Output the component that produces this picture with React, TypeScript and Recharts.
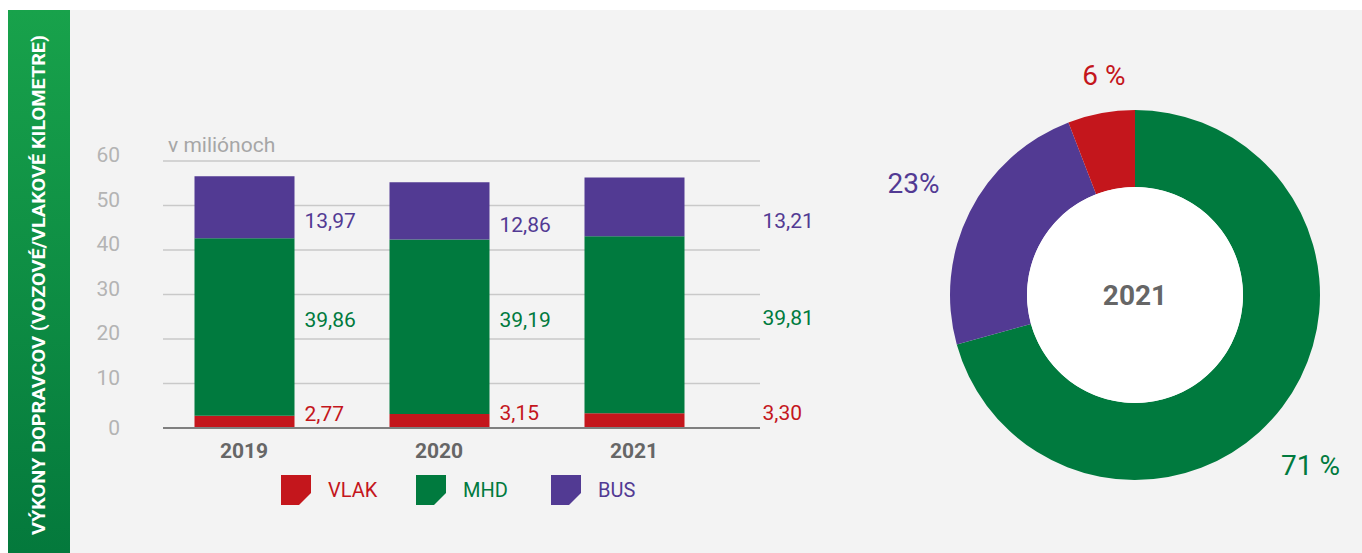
import React from 'react'
import {
  BarChart,
  Bar,
  XAxis,
  YAxis,
  CartesianGrid,
  LabelList,
  PieChart,
  Pie,
  Cell,
  Label
} from 'recharts'

// data
const years = ['2019', '2020', '2021']
const vlak = [2.77, 3.15, 3.3]
const mhd = [39.86, 39.19, 39.81]
const bus = [13.97, 12.86, 13.21]
const yTicks = [0, 10, 20, 30, 40, 50, 60]
const legendNames = ['VLAK', 'MHD', 'BUS']

const pieNames = ['MHD', 'BUS', 'VLAK']
const pieValues = [39.81, 13.21, 3.3]
const pieLabels = ['71 %', '23%', '6 %']
const pieYear = '2021'

const sideTitle = 'VÝKONY DOPRAVCOV (VOZOVÉ/VLAKOVÉ KILOMETRE)'
const unitText = 'v miliónoch'

const colors: Record<string, string> = {
  VLAK: '#c4161c',
  MHD: '#007a3e',
  BUS: '#523a93'
}

const FONT = 'Roboto, "Noto Sans", sans-serif'

// label layout tweaks (not data)
const labelDx = [10, 10, 78]
const pieLabelRadius = [60, 63, 37]
const pieLabelAngleShift = [-7, 0, -2.5]

const fmt = (v: number) => v.toFixed(2).replace('.', ',')

const barData = years.map((year, i) => ({
  year,
  VLAK: vlak[i],
  MHD: mhd[i],
  BUS: bus[i]
}))

const pieData = pieNames.map((name, i) => ({ name, value: pieValues[i] }))
const holeData = [{ name: 'hole', value: 1 }]

const makeBarLabel = (color: string, dy: number) => (props: any) => {
  const vb = props.viewBox || {}
  const x = props.x ?? vb.x
  const y = props.y ?? vb.y
  const width = props.width ?? vb.width
  const height = props.height ?? vb.height
  const index = props.index ?? 0
  return (
    <text
      x={x + width + labelDx[index]}
      y={y + height / 2 + dy}
      fill={color}
      fontSize={21}
      fontFamily={FONT}
      dominantBaseline="central"
    >
      {fmt(Number(props.value))}
    </text>
  )
}

const YTick = (props: any) => {
  const { y, payload } = props
  return (
    <text
      x={120}
      y={y + (payload.value === 0 ? 0 : -6)}
      textAnchor="end"
      dominantBaseline="central"
      fill="#b4b4b4"
      fontSize={21}
      fontFamily={FONT}
    >
      {payload.value}
    </text>
  )
}

const XTick = (props: any) => {
  const { x, payload } = props
  return (
    <text
      x={x}
      y={451}
      textAnchor="middle"
      dominantBaseline="central"
      fill="#666"
      fontSize={21}
      fontWeight={700}
      fontFamily={FONT}
    >
      {payload.value}
    </text>
  )
}

const RADIAN = Math.PI / 180

const renderPieLabel = (props: any) => {
  const { cx, cy, midAngle, outerRadius, index } = props
  const a = (midAngle + pieLabelAngleShift[index]) * RADIAN
  const r = outerRadius + pieLabelRadius[index]
  const x = cx + r * Math.cos(a)
  const y = cy - r * Math.sin(a)
  return (
    <text
      x={x}
      y={y}
      textAnchor="middle"
      dominantBaseline="central"
      fill={colors[pieNames[index]]}
      fontSize={28}
      fontFamily={FONT}
    >
      {pieLabels[index]}
    </text>
  )
}

function LegendIcon({ color }: { color: string }) {
  return (
    <svg width={30} height={30} style={{ display: 'block' }}>
      <polygon points="0,0 30,0 30,18 18,30 0,30" fill={color} />
    </svg>
  )
}

export default function App() {
  return (
    <div
      style={{
        position: 'fixed',
        left: 0,
        top: 0,
        width: 1362,
        height: 553,
        background: '#fff',
        fontFamily: FONT,
        overflow: 'hidden'
      }}
    >
      {/* green side band */}
      <div
        style={{
          position: 'absolute',
          left: 8,
          top: 10,
          width: 62,
          height: 543,
          background: 'linear-gradient(#18a24b, #04793c)'
        }}
      >
        <svg width={62} height={543}>
          <text
            transform="translate(37,275) rotate(-90)"
            textAnchor="middle"
            fill="#fff"
            fontSize={18}
            fontWeight={700}
            fontFamily={FONT}
            textLength={500}
            lengthAdjust="spacingAndGlyphs"
          >
            {sideTitle}
          </text>
        </svg>
      </div>

      {/* grey panel */}
      <div
        style={{
          position: 'absolute',
          left: 70,
          top: 10,
          width: 1292,
          height: 543,
          background: '#f3f3f3'
        }}
      />

      <div
        style={{
          position: 'absolute',
          left: 168,
          top: 135,
          fontSize: 21,
          lineHeight: '21px',
          color: '#a6a6a6'
        }}
      >
        {unitText}
      </div>

      <div style={{ position: 'absolute', left: 0, top: 0 }}>
        <BarChart
          width={860}
          height={553}
          data={barData}
          margin={{ top: 161, right: 100, bottom: 95, left: 0 }}
        >
          <CartesianGrid vertical={false} stroke="#c9c9c9" strokeWidth={1.5} />
          <XAxis
            dataKey="year"
            axisLine={{ stroke: '#7f7f7f', strokeWidth: 2 }}
            tickLine={false}
            padding={{ left: -16.5, right: 28.5 }}
            height={30}
            tick={<XTick />}
            interval={0}
          />
          <YAxis
            domain={[0, 60]}
            ticks={yTicks}
            axisLine={false}
            tickLine={false}
            width={163}
            tick={<YTick />}
          />
          <Bar dataKey="VLAK" stackId="a" fill={colors.VLAK} barSize={100} isAnimationActive={false}>
            <LabelList dataKey="VLAK" content={makeBarLabel(colors.VLAK, -8)} />
          </Bar>
          <Bar dataKey="MHD" stackId="a" fill={colors.MHD} barSize={100} isAnimationActive={false}>
            <LabelList dataKey="MHD" content={makeBarLabel(colors.MHD, -7)} />
          </Bar>
          <Bar dataKey="BUS" stackId="a" fill={colors.BUS} barSize={100} isAnimationActive={false}>
            <LabelList dataKey="BUS" content={makeBarLabel(colors.BUS, 14)} />
          </Bar>
        </BarChart>
      </div>

      {/* legend */}
      <div style={{ position: 'absolute', left: 281, top: 475, display: 'flex' }}>
        {legendNames.map((name) => (
          <div
            key={name}
            style={{ display: 'flex', alignItems: 'center', width: 135 }}
          >
            <LegendIcon color={colors[name]} />
            <span
              style={{
                marginLeft: 17,
                fontSize: 20,
                color: colors[name],
                lineHeight: '30px'
              }}
            >
              {name}
            </span>
          </div>
        ))}
      </div>

      <div style={{ position: 'absolute', left: 885, top: 45 }}>
        <PieChart width={500} height={500} margin={{ top: 0, right: 0, bottom: 0, left: 0 }}>
          <Pie
            data={pieData}
            dataKey="value"
            nameKey="name"
            cx={250}
            cy={250}
            innerRadius={108}
            outerRadius={185}
            startAngle={90}
            endAngle={-270}
            stroke="none"
            label={renderPieLabel}
            labelLine={false}
            isAnimationActive={false}
          >
            {pieData.map((d) => (
              <Cell key={d.name} fill={colors[d.name]} />
            ))}
          </Pie>
          <Pie
            data={holeData}
            dataKey="value"
            cx={250}
            cy={250}
            innerRadius={0}
            outerRadius={108}
            fill="#fff"
            stroke="none"
            isAnimationActive={false}
          >
            <Label
              value={pieYear}
              position="center"
              fill="#666"
              fontSize={28}
              fontWeight={700}
              fontFamily={FONT}
            />
          </Pie>
        </PieChart>
      </div>
    </div>
  )
}
